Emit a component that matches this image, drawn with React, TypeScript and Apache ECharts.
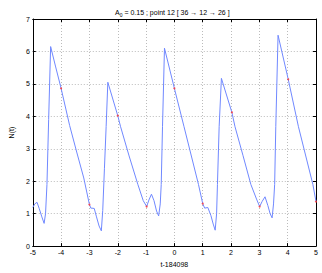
import React, { useEffect, useRef } from "react";
import * as echarts from "echarts";

const tValues = [-5.0, -4.93, -4.85, -4.77, -4.68, -4.6, -4.55, -4.5, -4.44, -4.37, -4.2, -4.0, -3.7, -3.45, -3.2, -3.0, -2.95, -2.91, -2.83, -2.75, -2.66, -2.58, -2.53, -2.47, -2.41, -2.35, -2.0, -1.9, -1.6, -1.29, -1.1, -0.98, -0.9, -0.81, -0.72, -0.63, -0.556, -0.5, -0.465, -0.42, -0.35, 0.0, 0.34, 0.85, 1.0, 1.07, 1.18, 1.29, 1.37, 1.44, 1.49, 1.52, 1.58, 1.66, 2.03, 2.14, 2.42, 2.7, 2.9, 3.01, 3.1, 3.2, 3.3, 3.38, 3.45, 3.5, 3.54, 3.58, 3.66, 4.02, 4.38, 4.89, 5.0];
const nValues = [1.19, 1.3, 1.35, 1.15, 0.9, 0.7, 1.0, 1.9, 3.9, 6.15, 5.55, 4.86, 3.72, 2.9, 2.1, 1.28, 1.17, 1.17, 1.16, 0.9, 0.62, 0.47, 1.1, 2.4, 3.69, 5.05, 4.02, 3.68, 2.78, 1.9, 1.4, 1.22, 1.42, 1.6, 1.4, 1.08, 0.93, 1.3, 1.9, 3.68, 6.1, 4.86, 3.68, 1.9, 1.31, 1.17, 1.19, 0.94, 0.68, 0.49, 1.0, 1.9, 3.68, 5.17, 4.12, 3.68, 2.8, 1.9, 1.45, 1.22, 1.38, 1.52, 1.25, 1.0, 0.87, 1.3, 1.9, 3.68, 6.5, 5.14, 3.68, 1.9, 1.37];

const markT = [-4.0, -3.0, -2.0, -0.98, 0.0, 1.0, 2.03, 3.01, 4.02, 5.0];
const markN = [4.86, 1.28, 4.02, 1.22, 4.86, 1.31, 4.12, 1.22, 5.14, 1.37];

const xTicks = [-5, -4, -3, -2, -1, 0, 1, 2, 3, 4, 5];
const yTicks = [0, 1, 2, 3, 4, 5, 6, 7];

const FONT = "Liberation Sans";

export default function App() {
  const ref = useRef<HTMLDivElement>(null);
  useEffect(() => {
    if (!ref.current) return;
    const chart = echarts.init(ref.current, undefined, { renderer: "svg" });
    const lineData = tValues.map((t, i) => [t, nValues[i]]);
    const markData = markT.map((t, i) => [t, markN[i]]);
    const baseAxis = {
      axisLine: { show: true, onZero: false, lineStyle: { color: "#000", width: 1 } },
      axisTick: { show: true, inside: true, length: 3, lineStyle: { color: "#000" } },
    };
    const option = {
      animation: false,
      title: {
        text: "A{s|0} = 0.15 ; point 12 [ 36 \u2192 12 \u2192 26 ]",
        left: 110,
        top: 3,
        textStyle: {
          fontSize: 7,
          fontWeight: "normal",
          fontFamily: FONT,
          color: "#000",
          rich: {
            s: { fontSize: 5, fontFamily: FONT, color: "#000", padding: [4, 0, 0, 0] },
          },
        },
      },
      grid: { left: 18, right: 6, top: 19, bottom: 20, containLabel: false },
      xAxis: [
        {
          ...baseAxis,
          type: "value",
          min: -5,
          max: 5,
          interval: 1,
          position: "bottom",
          name: "t-184098",
          nameLocation: "middle",
          nameGap: 11,
          nameTextStyle: { fontSize: 7, fontFamily: FONT, color: "#000" },
          axisLabel: { fontSize: 7, fontFamily: FONT, color: "#000", margin: 3, formatter: (v: number) => (xTicks.includes(v) ? String(v) : "") },
          splitLine: { show: true, lineStyle: { color: "#bbb", type: [1, 2], width: 1 } },
        },
        {
          ...baseAxis,
          type: "value",
          min: -5,
          max: 5,
          interval: 1,
          position: "top",
          axisLabel: { show: false },
          splitLine: { show: false },
        },
      ],
      yAxis: [
        {
          ...baseAxis,
          type: "value",
          min: 0,
          max: 7,
          interval: 1,
          position: "left",
          name: "N(t)",
          nameLocation: "middle",
          nameGap: 10,
          nameTextStyle: { fontSize: 7, fontFamily: FONT, color: "#000" },
          axisLabel: { fontSize: 7, fontFamily: FONT, color: "#000", margin: 3, formatter: (v: number) => (yTicks.includes(v) ? String(v) : "") },
          splitLine: { show: true, lineStyle: { color: "#bbb", type: [1, 2], width: 1 } },
        },
        {
          ...baseAxis,
          type: "value",
          min: 0,
          max: 7,
          interval: 1,
          position: "right",
          axisLabel: { show: false },
          splitLine: { show: false },
        },
      ],
      series: [
        {
          type: "line",
          data: lineData,
          xAxisIndex: 0,
          yAxisIndex: 0,
          showSymbol: false,
          symbol: "none",
          lineStyle: { color: "#7088ff", width: 1 },
          z: 2,
        },
        {
          type: "scatter",
          data: markData,
          xAxisIndex: 0,
          yAxisIndex: 0,
          symbol: "circle",
          symbolSize: 2,
          itemStyle: { color: "#ff3030" },
          z: 3,
        },
      ],
    };
    chart.setOption(option as any);
    return () => chart.dispose();
  }, []);
  return (
    <div
      ref={ref}
      style={{ position: "fixed", left: 0, top: 0, width: 322, height: 273, background: "#fff" }}
    />
  );
}
